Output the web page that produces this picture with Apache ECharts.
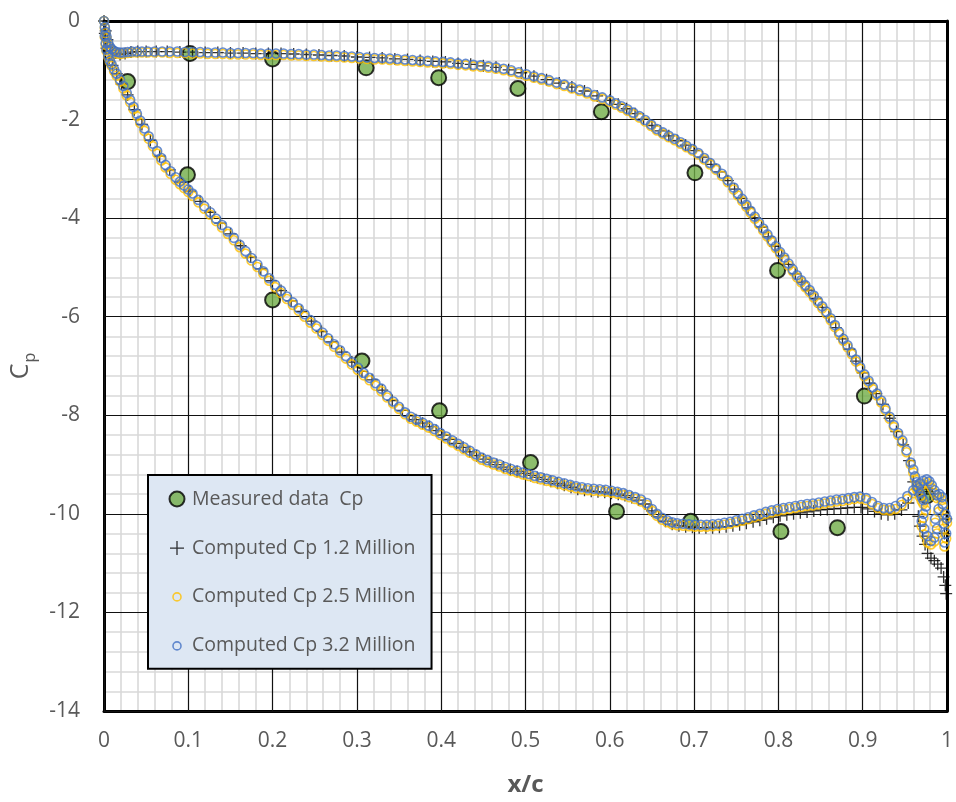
<!DOCTYPE html>
<html>
<head>
<meta charset="utf-8">
<title>Cp distribution</title>
<script src="https://cdn.jsdelivr.net/npm/echarts@6/dist/echarts.min.js"></script>
<style>
  html, body { margin: 0; padding: 0; background: #ffffff; }
  #chart { width: 956px; height: 802px; }
</style>
</head>
<body>
<div id="chart"></div>
<script>
// Series names (legend order = drawing order)
const seriesNames = [
  'Measured data  Cp',
  'Computed Cp 1.2 Million',
  'Computed Cp 2.5 Million',
  'Computed Cp 3.2 Million'
];

// Wind-tunnel pressure taps
const measuredX  = [0.028, 0.102, 0.200, 0.311, 0.397, 0.491, 0.590, 0.701, 0.799, 0.902,
                    0.099, 0.200, 0.306, 0.398, 0.506, 0.608, 0.696, 0.803, 0.870, 0.976];
const measuredCp = [-1.23, -0.66, -0.77, -0.95, -1.15, -1.37, -1.84, -3.08, -5.06, -7.61,
                    -3.12, -5.66, -6.90, -7.91, -8.96, -9.95, -10.15, -10.36, -10.28, -9.64];

// Surface stations shared by the 2.5 M and 3.2 M runs: [x/c, Cp 2.5M, Cp 3.2M]
const upperStations = [
  [0.000, 0.00, 0.00], [0.001, -0.14, -0.12], [0.002, -0.25, -0.22], [0.003, -0.35, -0.32],
  [0.005, -0.47, -0.44], [0.007, -0.55, -0.52], [0.009, -0.60, -0.57], [0.012, -0.64, -0.61],
  [0.015, -0.66, -0.63], [0.019, -0.67, -0.64], [0.023, -0.66, -0.64], [0.028, -0.65, -0.63],
  [0.033, -0.64, -0.62], [0.039, -0.64, -0.62], [0.045, -0.64, -0.62], [0.052, -0.64, -0.62],
  [0.060, -0.64, -0.62], [0.069, -0.64, -0.62], [0.078, -0.65, -0.62], [0.087, -0.65, -0.62],
  [0.096, -0.65, -0.63], [0.105, -0.66, -0.63], [0.114, -0.66, -0.63], [0.123, -0.67, -0.64],
  [0.132, -0.67, -0.64], [0.141, -0.67, -0.64], [0.150, -0.68, -0.65], [0.159, -0.68, -0.65],
  [0.168, -0.68, -0.65], [0.177, -0.68, -0.65], [0.186, -0.69, -0.66], [0.195, -0.69, -0.66],
  [0.204, -0.69, -0.66], [0.213, -0.69, -0.66], [0.222, -0.70, -0.67], [0.231, -0.70, -0.67],
  [0.240, -0.71, -0.68], [0.249, -0.71, -0.68], [0.258, -0.72, -0.69], [0.267, -0.73, -0.70],
  [0.276, -0.73, -0.70], [0.285, -0.74, -0.71], [0.294, -0.75, -0.72], [0.303, -0.76, -0.73],
  [0.312, -0.77, -0.74], [0.321, -0.78, -0.75], [0.330, -0.78, -0.75], [0.339, -0.79, -0.76],
  [0.348, -0.80, -0.77], [0.357, -0.81, -0.78], [0.366, -0.82, -0.79], [0.375, -0.83, -0.80],
  [0.384, -0.84, -0.81], [0.393, -0.85, -0.82], [0.402, -0.86, -0.83], [0.411, -0.87, -0.84],
  [0.420, -0.89, -0.86], [0.429, -0.90, -0.87], [0.438, -0.92, -0.89], [0.447, -0.93, -0.90],
  [0.456, -0.95, -0.92], [0.465, -0.97, -0.94], [0.474, -1.00, -0.97], [0.483, -1.03, -1.00],
  [0.492, -1.07, -1.04], [0.501, -1.11, -1.08], [0.510, -1.15, -1.12], [0.519, -1.19, -1.16],
  [0.528, -1.23, -1.20], [0.537, -1.28, -1.25], [0.546, -1.32, -1.29], [0.555, -1.37, -1.34],
  [0.564, -1.42, -1.39], [0.573, -1.47, -1.44], [0.582, -1.53, -1.50], [0.591, -1.58, -1.55],
  [0.600, -1.64, -1.61], [0.607, -1.70, -1.67], [0.614, -1.76, -1.73], [0.621, -1.82, -1.79],
  [0.628, -1.89, -1.86], [0.635, -1.96, -1.93], [0.642, -2.04, -2.01], [0.649, -2.13, -2.10],
  [0.656, -2.22, -2.19], [0.663, -2.29, -2.26], [0.670, -2.36, -2.33], [0.677, -2.42, -2.39],
  [0.684, -2.49, -2.46], [0.691, -2.56, -2.53], [0.698, -2.63, -2.60], [0.705, -2.71, -2.68],
  [0.712, -2.81, -2.78], [0.719, -2.91, -2.88], [0.726, -3.02, -2.99], [0.733, -3.14, -3.10],
  [0.740, -3.27, -3.23], [0.747, -3.42, -3.38], [0.752, -3.54, -3.50], [0.757, -3.65, -3.61],
  [0.762, -3.77, -3.73], [0.767, -3.89, -3.85], [0.772, -4.01, -3.97], [0.777, -4.13, -4.09],
  [0.782, -4.25, -4.21], [0.787, -4.37, -4.33], [0.792, -4.49, -4.45], [0.797, -4.61, -4.57],
  [0.802, -4.73, -4.69], [0.807, -4.84, -4.80], [0.812, -4.96, -4.92], [0.817, -5.08, -5.04],
  [0.822, -5.20, -5.16], [0.827, -5.30, -5.26], [0.832, -5.40, -5.36], [0.837, -5.50, -5.46],
  [0.842, -5.61, -5.57], [0.847, -5.72, -5.68], [0.852, -5.83, -5.79], [0.857, -5.94, -5.90],
  [0.862, -6.07, -6.03], [0.867, -6.21, -6.17], [0.872, -6.35, -6.31], [0.877, -6.49, -6.45],
  [0.882, -6.62, -6.58], [0.887, -6.76, -6.72], [0.892, -6.91, -6.87], [0.897, -7.06, -7.02],
  [0.902, -7.21, -7.17], [0.907, -7.34, -7.30], [0.912, -7.47, -7.43], [0.917, -7.60, -7.56],
  [0.922, -7.74, -7.70], [0.927, -7.90, -7.86], [0.932, -8.07, -8.03], [0.937, -8.24, -8.20],
  [0.942, -8.40, -8.36], [0.947, -8.55, -8.51], [0.952, -8.75, -8.71], [0.957, -9.00, -8.96]
];

const lowerStations = [
  [0.001, -0.33, -0.30], [0.002, -0.48, -0.45], [0.003, -0.61, -0.58], [0.005, -0.73, -0.70],
  [0.007, -0.83, -0.80], [0.009, -0.91, -0.88], [0.012, -1.02, -0.98], [0.015, -1.11, -1.07],
  [0.019, -1.23, -1.19], [0.023, -1.37, -1.32], [0.027, -1.51, -1.46], [0.031, -1.65, -1.60],
  [0.035, -1.79, -1.74], [0.039, -1.93, -1.88], [0.043, -2.07, -2.02], [0.048, -2.23, -2.18],
  [0.053, -2.39, -2.34], [0.058, -2.54, -2.49], [0.063, -2.69, -2.64], [0.068, -2.83, -2.78],
  [0.073, -2.97, -2.92], [0.079, -3.10, -3.05], [0.085, -3.22, -3.17], [0.090, -3.31, -3.26],
  [0.095, -3.39, -3.34], [0.100, -3.47, -3.42], [0.105, -3.55, -3.50], [0.112, -3.68, -3.63],
  [0.119, -3.81, -3.76], [0.126, -3.93, -3.88], [0.133, -4.06, -4.01], [0.140, -4.19, -4.14],
  [0.147, -4.32, -4.27], [0.154, -4.45, -4.40], [0.161, -4.59, -4.54], [0.168, -4.72, -4.67],
  [0.175, -4.86, -4.81], [0.182, -4.99, -4.94], [0.189, -5.13, -5.08], [0.196, -5.27, -5.22],
  [0.203, -5.40, -5.35], [0.210, -5.52, -5.47], [0.217, -5.64, -5.59], [0.224, -5.76, -5.71],
  [0.231, -5.88, -5.83], [0.238, -6.00, -5.95], [0.245, -6.12, -6.07], [0.252, -6.24, -6.19],
  [0.259, -6.37, -6.32], [0.266, -6.49, -6.44], [0.273, -6.61, -6.56], [0.280, -6.73, -6.68],
  [0.287, -6.85, -6.80], [0.294, -6.97, -6.92], [0.301, -7.08, -7.03], [0.308, -7.19, -7.14],
  [0.315, -7.29, -7.24], [0.322, -7.40, -7.35], [0.329, -7.51, -7.46], [0.336, -7.64, -7.60],
  [0.343, -7.76, -7.72], [0.350, -7.87, -7.83], [0.357, -7.98, -7.94], [0.364, -8.07, -8.03],
  [0.371, -8.13, -8.09], [0.378, -8.19, -8.15], [0.385, -8.25, -8.21], [0.392, -8.32, -8.28],
  [0.399, -8.40, -8.36], [0.406, -8.47, -8.43], [0.413, -8.55, -8.51], [0.420, -8.62, -8.58],
  [0.427, -8.69, -8.65], [0.434, -8.76, -8.72], [0.441, -8.83, -8.79], [0.448, -8.90, -8.86],
  [0.455, -8.95, -8.91], [0.462, -9.00, -8.96], [0.469, -9.04, -9.00], [0.476, -9.09, -9.05],
  [0.483, -9.13, -9.09], [0.490, -9.16, -9.12], [0.497, -9.20, -9.16], [0.504, -9.23, -9.19],
  [0.511, -9.27, -9.23], [0.518, -9.30, -9.26], [0.525, -9.33, -9.29], [0.532, -9.36, -9.32],
  [0.539, -9.39, -9.35], [0.546, -9.42, -9.38], [0.553, -9.45, -9.41], [0.560, -9.48, -9.44],
  [0.567, -9.50, -9.46], [0.574, -9.52, -9.48], [0.581, -9.53, -9.49], [0.588, -9.54, -9.50],
  [0.595, -9.55, -9.51], [0.602, -9.57, -9.53], [0.609, -9.59, -9.55], [0.616, -9.62, -9.58],
  [0.623, -9.66, -9.62], [0.630, -9.70, -9.66], [0.637, -9.75, -9.71], [0.644, -9.82, -9.78],
  [0.650, -9.94, -9.90], [0.656, -10.04, -10.00], [0.662, -10.12, -10.08], [0.668, -10.17, -10.13],
  [0.674, -10.21, -10.17], [0.680, -10.23, -10.19], [0.687, -10.24, -10.20], [0.694, -10.25, -10.21],
  [0.701, -10.26, -10.22], [0.708, -10.26, -10.22], [0.715, -10.26, -10.22], [0.722, -10.25, -10.21],
  [0.729, -10.24, -10.20], [0.736, -10.22, -10.18], [0.743, -10.20, -10.16], [0.750, -10.17, -10.13],
  [0.757, -10.14, -10.10], [0.764, -10.11, -10.07], [0.771, -10.07, -10.03], [0.778, -10.04, -10.00],
  [0.785, -10.00, -9.96], [0.792, -9.97, -9.93], [0.799, -9.94, -9.90], [0.806, -9.92, -9.88],
  [0.813, -9.90, -9.86], [0.820, -9.88, -9.84], [0.827, -9.86, -9.82], [0.834, -9.84, -9.80],
  [0.841, -9.83, -9.79], [0.848, -9.81, -9.77], [0.855, -9.79, -9.75], [0.862, -9.77, -9.73],
  [0.869, -9.75, -9.71], [0.876, -9.74, -9.70], [0.883, -9.72, -9.68], [0.890, -9.70, -9.66],
  [0.897, -9.69, -9.65], [0.904, -9.72, -9.68], [0.911, -9.80, -9.76], [0.918, -9.88, -9.84],
  [0.925, -9.92, -9.88], [0.932, -9.93, -9.88], [0.939, -9.90, -9.84], [0.946, -9.82, -9.76],
  [0.953, -9.70, -9.64], [0.960, -9.58, -9.52]
];

const trailingStations = [
  [0.960, -9.16, -9.10], [0.962, -9.30, -9.24], [0.964, -9.42, -9.36], [0.966, -9.55, -9.48],
  [0.968, -9.66, -9.58], [0.970, -9.74, -9.66], [0.972, -9.80, -9.72], [0.964, -9.50, -9.44],
  [0.968, -9.45, -9.38], [0.972, -9.40, -9.33], [0.976, -9.36, -9.30], [0.979, -9.40, -9.34],
  [0.982, -9.48, -9.42], [0.985, -9.58, -9.52], [0.988, -9.68, -9.62], [0.991, -9.66, -9.60],
  [0.994, -9.72, -9.66], [0.975, -9.93, -9.85], [0.972, -10.08, -10.00], [0.970, -10.25, -10.15],
  [0.973, -10.42, -10.30], [0.977, -10.58, -10.45], [0.981, -10.62, -10.55], [0.985, -10.56, -10.48],
  [0.988, -10.40, -10.30], [0.986, -10.18, -10.10], [0.990, -9.96, -9.90], [0.995, -9.86, -9.80],
  [0.998, -10.08, -10.00], [0.996, -10.30, -10.20], [0.999, -10.50, -10.40], [0.997, -10.66, -10.58],
  [1.000, -10.18, -10.10]
];

// 1.2 M run, its own surface stations: [x/c, Cp]
const cp12Upper = [
  [0.000, 0.00], [0.002, -0.20], [0.004, -0.38], [0.007, -0.52], [0.010, -0.60], [0.014, -0.65],
  [0.019, -0.68], [0.025, -0.66], [0.032, -0.63], [0.040, -0.62], [0.050, -0.62], [0.062, -0.62],
  [0.075, -0.62], [0.090, -0.63], [0.105, -0.63], [0.120, -0.64], [0.135, -0.64], [0.150, -0.65],
  [0.165, -0.65], [0.180, -0.66], [0.195, -0.66], [0.210, -0.66], [0.225, -0.67], [0.240, -0.68],
  [0.255, -0.69], [0.270, -0.70], [0.285, -0.71], [0.300, -0.73], [0.315, -0.74], [0.330, -0.75],
  [0.345, -0.77], [0.360, -0.78], [0.375, -0.80], [0.390, -0.82], [0.405, -0.83], [0.420, -0.86],
  [0.435, -0.88], [0.450, -0.91], [0.465, -0.94], [0.480, -0.99], [0.495, -1.05], [0.510, -1.12],
  [0.525, -1.19], [0.540, -1.26], [0.555, -1.34], [0.570, -1.42], [0.585, -1.52], [0.600, -1.61],
  [0.610, -1.69], [0.620, -1.78], [0.630, -1.88], [0.640, -1.99], [0.650, -2.12], [0.660, -2.23],
  [0.670, -2.33], [0.680, -2.43], [0.690, -2.52], [0.700, -2.63], [0.710, -2.76], [0.720, -2.91],
  [0.730, -3.06], [0.740, -3.24], [0.748, -3.41], [0.756, -3.60], [0.764, -3.79], [0.772, -3.99],
  [0.780, -4.18], [0.788, -4.38], [0.796, -4.57], [0.804, -4.76], [0.812, -4.94], [0.820, -5.13],
  [0.828, -5.30], [0.836, -5.46], [0.844, -5.63], [0.852, -5.81], [0.860, -6.00], [0.868, -6.22],
  [0.876, -6.45], [0.884, -6.66], [0.892, -6.90], [0.900, -7.14], [0.908, -7.35], [0.916, -7.56],
  [0.924, -7.78], [0.932, -8.06], [0.940, -8.33], [0.948, -8.60], [0.955, -8.92]
];

const cp12Lower = [
  [0.001, -0.25], [0.003, -0.55], [0.006, -0.75], [0.010, -0.90], [0.015, -1.07], [0.021, -1.28],
  [0.028, -1.50], [0.036, -1.80], [0.045, -2.10], [0.055, -2.42], [0.066, -2.74], [0.078, -3.02],
  [0.090, -3.27], [0.102, -3.45], [0.114, -3.66], [0.126, -3.88], [0.138, -4.10], [0.150, -4.32],
  [0.162, -4.56], [0.174, -4.79], [0.186, -5.03], [0.198, -5.27], [0.210, -5.47], [0.222, -5.68],
  [0.234, -5.89], [0.246, -6.09], [0.258, -6.30], [0.270, -6.51], [0.282, -6.72], [0.294, -6.92],
  [0.306, -7.11], [0.318, -7.28], [0.330, -7.49], [0.342, -7.70], [0.354, -7.90], [0.362, -8.01],
  [0.370, -8.09], [0.378, -8.16], [0.386, -8.23], [0.394, -8.31], [0.402, -8.40], [0.410, -8.49],
  [0.418, -8.57], [0.426, -8.65], [0.434, -8.74], [0.442, -8.82], [0.450, -8.89], [0.458, -8.95],
  [0.466, -9.00], [0.474, -9.05], [0.482, -9.10], [0.490, -9.14], [0.498, -9.18], [0.506, -9.22],
  [0.514, -9.26], [0.522, -9.30], [0.530, -9.34], [0.538, -9.38], [0.546, -9.42], [0.554, -9.46],
  [0.562, -9.50], [0.570, -9.52], [0.578, -9.54], [0.586, -9.55], [0.594, -9.56], [0.602, -9.58],
  [0.610, -9.60], [0.618, -9.63], [0.626, -9.67], [0.634, -9.72], [0.642, -9.80], [0.650, -9.94],
  [0.658, -10.06], [0.666, -10.15], [0.674, -10.21], [0.682, -10.24], [0.690, -10.26], [0.698, -10.27],
  [0.706, -10.28], [0.714, -10.28], [0.722, -10.28], [0.730, -10.27], [0.738, -10.26], [0.746, -10.24],
  [0.754, -10.22], [0.762, -10.19], [0.770, -10.16], [0.778, -10.13], [0.786, -10.10], [0.794, -10.07],
  [0.802, -10.04], [0.810, -10.02], [0.818, -10.00], [0.826, -9.98], [0.834, -9.96], [0.842, -9.94],
  [0.850, -9.92], [0.858, -9.91], [0.866, -9.90], [0.874, -9.89], [0.882, -9.88], [0.890, -9.87],
  [0.898, -9.87], [0.906, -9.90], [0.914, -9.95], [0.922, -10.00], [0.930, -10.02], [0.938, -10.00],
  [0.946, -9.92], [0.954, -9.78]
];

const cp12Trailing = [
  [0.960, -9.35], [0.964, -9.50], [0.968, -9.62], [0.972, -9.55], [0.976, -9.48], [0.980, -9.60],
  [0.966, -10.05], [0.968, -10.25], [0.971, -10.45], [0.974, -10.62], [0.977, -10.80], [0.981, -10.90],
  [0.985, -10.95], [0.989, -11.02], [0.993, -11.10], [0.996, -11.28], [0.998, -11.45], [0.999, -11.62],
  [0.997, -10.40], [0.999, -10.10]
];

// Axis ranges
const xRange = { min: 0, max: 1, step: 0.1 };
const yRange = { min: -14, max: 0, step: 2 };

const FONT = '"Open Sans", "DejaVu Sans", sans-serif';
const TEXT_GREY = '#595959';

// Build point lists for the library
const measuredPoints = measuredX.map((x, i) => [x, measuredCp[i]]);
const allStations = upperStations.concat(lowerStations, trailingStations);
const cp25Points = allStations.map(r => [r[0], r[1]]);
const cp32Points = allStations.map(r => [r[0], r[2]]);
const cp12Points = cp12Upper.concat(cp12Lower, cp12Trailing);

// Marker shapes
const plusSymbol = 'path://M0,5L10,5M5,0L5,10';
const legendDot = 'path://M0,0M20,20M17.5,10A7.5,7.5,0,1,1,2.5,10A7.5,7.5,0,1,1,17.5,10Z';
const legendPlus = 'path://M0,0M20,20M3,10L17,10M10,3L10,17';
const legendRing = 'path://M0,0M20,20M14,10A4,4,0,1,1,6,10A4,4,0,1,1,14,10Z';

const measuredStyle = { color: '#70ad47', borderColor: '#000000', borderWidth: 2 };
const plusStyle = { color: 'rgba(0,0,0,0)', borderColor: '#000000', borderWidth: 1.3 };
const ring25Style = { color: 'rgba(0,0,0,0)', borderColor: '#ffc000', borderWidth: 1.6 };
const ring32Style = { color: 'rgba(0,0,0,0)', borderColor: '#4472c4', borderWidth: 1.6 };

const chart = echarts.init(document.getElementById('chart'), null, { renderer: 'canvas' });

const baseAxisLabel = { color: TEXT_GREY, fontFamily: FONT, fontSize: 21 };

const option = {
  animation: false,
  backgroundColor: '#ffffff',
  grid: { left: 104, right: 6, top: 21, bottom: 89 },
  xAxis: [
    {
      type: 'value', position: 'bottom',
      min: xRange.min, max: xRange.max, interval: xRange.step,
      axisLine: { show: true, onZero: false, lineStyle: { color: '#000000', width: 3 } },
      axisTick: { show: false },
      axisLabel: Object.assign({ margin: 20, formatter: v => (v === 0 ? '0' : v === 1 ? '1' : v.toFixed(1)) }, baseAxisLabel),
      splitLine: { show: false },
      minorTick: { show: false, splitNumber: 5 },
      minorSplitLine: { show: true, lineStyle: { color: '#d9d9d9', width: 1.6 } },
      name: 'x/c', nameLocation: 'middle', nameGap: 62,
      nameTextStyle: { color: TEXT_GREY, fontFamily: FONT, fontSize: 24, fontWeight: 'bold' }
    },
    {
      type: 'value', position: 'top',
      min: xRange.min, max: xRange.max, interval: xRange.step,
      axisLine: { show: true, onZero: false, lineStyle: { color: '#000000', width: 3 } },
      axisTick: { show: false }, axisLabel: { show: false },
      splitLine: { show: true, lineStyle: { color: '#111111', width: 1.2 } },
      z: 1
    }
  ],
  yAxis: [
    {
      type: 'value', position: 'left',
      min: yRange.min, max: yRange.max, interval: yRange.step,
      axisLine: { show: true, onZero: false, lineStyle: { color: '#000000', width: 3 } },
      axisTick: { show: false },
      axisLabel: Object.assign({ margin: 24, formatter: v => String(v) }, baseAxisLabel),
      splitLine: { show: false },
      minorTick: { show: false, splitNumber: 5 },
      minorSplitLine: { show: true, lineStyle: { color: '#d9d9d9', width: 1.6 } },
      name: '{c|C}{p|p}', nameLocation: 'middle', nameRotate: 90, nameGap: 62,
      nameTextStyle: {
        color: TEXT_GREY, fontFamily: FONT,
        rich: {
          c: { fontSize: 25, color: TEXT_GREY, fontFamily: FONT, verticalAlign: 'top', lineHeight: 32 },
          p: { fontSize: 16, color: TEXT_GREY, fontFamily: FONT, verticalAlign: 'top', lineHeight: 20, padding: [14, 0, 0, 1] }
        }
      }
    },
    {
      type: 'value', position: 'right',
      min: yRange.min, max: yRange.max, interval: yRange.step,
      axisLine: { show: true, onZero: false, lineStyle: { color: '#000000', width: 3 } },
      axisTick: { show: false }, axisLabel: { show: false },
      splitLine: { show: true, lineStyle: { color: '#111111', width: 1.2 } },
      z: 1
    }
  ],
  legend: {
    orient: 'vertical', left: 148, top: 475,
    padding: [13, 16, 12, 18],
    itemWidth: 20, itemHeight: 20, itemGap: 27.4,
    backgroundColor: '#dde7f3', borderColor: '#000000', borderWidth: 2,
    selectedMode: false,
    textStyle: { color: TEXT_GREY, fontFamily: FONT, fontSize: 19.5, lineHeight: 20 },
    data: [
      { name: seriesNames[0], icon: legendDot, itemStyle: measuredStyle },
      { name: seriesNames[1], icon: legendPlus, itemStyle: plusStyle },
      { name: seriesNames[2], icon: legendRing, itemStyle: ring25Style },
      { name: seriesNames[3], icon: legendRing, itemStyle: ring32Style }
    ]
  },
  series: [
    {
      name: seriesNames[0], type: 'scatter', xAxisIndex: 0, yAxisIndex: 0,
      symbol: 'circle', symbolSize: 15, itemStyle: measuredStyle,
      data: measuredPoints, z: 2, silent: true
    },
    {
      name: seriesNames[1], type: 'scatter', xAxisIndex: 0, yAxisIndex: 0,
      symbol: plusSymbol, symbolSize: 12, itemStyle: plusStyle,
      data: cp12Points, z: 3, silent: true
    },
    {
      name: seriesNames[2], type: 'scatter', xAxisIndex: 0, yAxisIndex: 0,
      symbol: 'circle', symbolSize: 9, itemStyle: ring25Style,
      data: cp25Points, z: 4, silent: true
    },
    {
      name: seriesNames[3], type: 'scatter', xAxisIndex: 0, yAxisIndex: 0,
      symbol: 'circle', symbolSize: 9, itemStyle: ring32Style,
      data: cp32Points, z: 5, silent: true
    }
  ]
};

chart.setOption(option);
</script>
</body>
</html>
